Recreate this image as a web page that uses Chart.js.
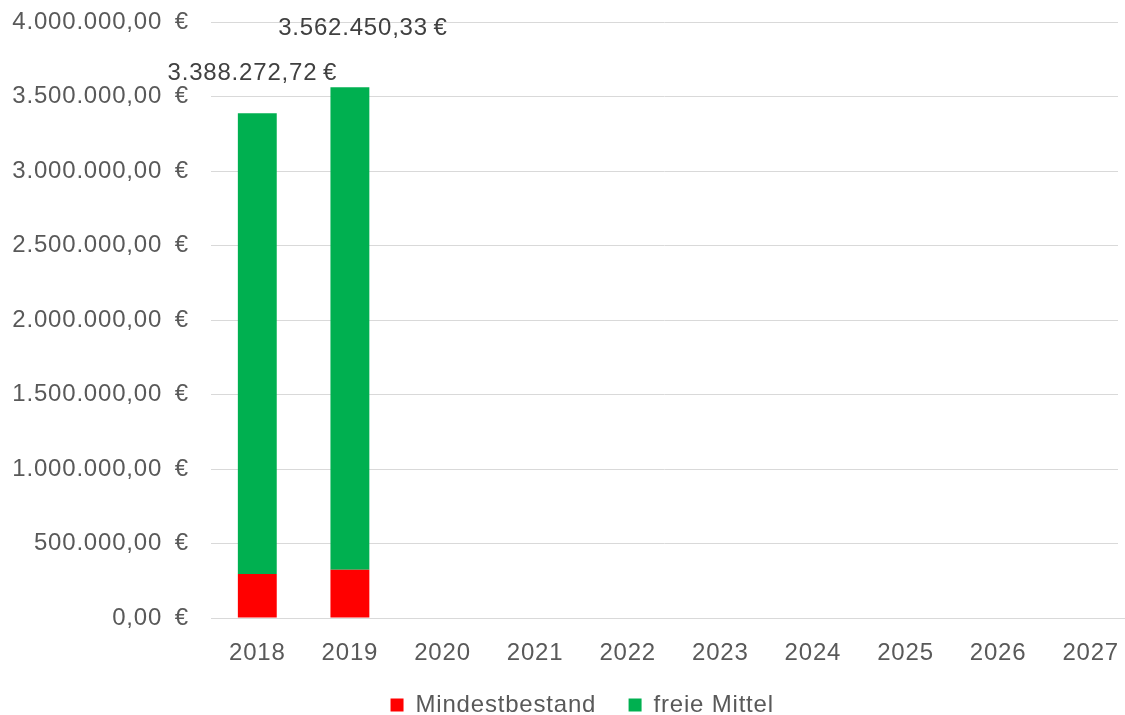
<!DOCTYPE html>
<html lang="de">
<head>
  <meta charset="UTF-8">
  <title>Mindestbestand / freie Mittel</title>
  <script src="https://cdn.jsdelivr.net/npm/chart.js"></script>
  <style>
    body { margin: 0; padding: 0; background: #fff; }
    .chart-container { width: 1125px; height: 715px; }
  </style>
</head>
<body>
  <div class="chart-container">
    <canvas id="liquiChart"></canvas>
  </div>

  <script>
    const years = ['2018', '2019', '2020', '2021', '2022', '2023', '2024', '2025', '2026', '2027'];
    const mindestbestand = [296000, 323000, null, null, null, null, null, null, null, null];
    const totals = [3388272.72, 3562450.33, null, null, null, null, null, null, null, null];
    const freieMittel = totals.map((t, i) => t === null ? null : t - mindestbestand[i]);
    const totalLabels = ['3.388.272,72\u2009€', '3.562.450,33\u2009€'];

    const fontFamily = '"Liberation Sans", Arial, sans-serif';
    const fmt = new Intl.NumberFormat('de-DE', { minimumFractionDigits: 2, maximumFractionDigits: 2 });

    // Summen über den Säulen (Excel hat sie von Hand verschoben)
    const labelShift = [{ dx: -5, dy: -40 }, { dx: 13, dy: -59 }];
    const totalLabelPlugin = {
      id: 'totalLabels',
      beforeDraw(chart) {
        // Excel-Schrift läuft etwas breiter
        chart.ctx.letterSpacing = '0.8px';
      },
      afterLayout(chart) {
        // Legende etwas tiefer/rechts setzen, wie im Original
        chart.legend.top += 12;
        chart.legend.bottom += 12;
        chart.legend.left += 12;
        chart.legend.right += 12;
        // in Excel läuft die Kategorieachse rechts über den Rand hinaus
        const x = chart.scales.x;
        x.right = x.left + 926;
        x.width = x.right - x.left;
        x.configure();
      },
      afterDatasetsDraw(chart) {
        const ctx = chart.ctx;
        const meta = chart.getDatasetMeta(1);
        ctx.save();
        ctx.font = '24px ' + fontFamily;
        ctx.fillStyle = '#404040';
        ctx.textAlign = 'center';
        ctx.textBaseline = 'middle';
        totalLabels.forEach((txt, i) => {
          const bar = meta.data[i];
          if (!bar) return;
          const s = labelShift[i] || { dx: 0, dy: -20 };
          ctx.fillText(txt, bar.x + s.dx, bar.y + s.dy);
        });
        ctx.restore();
      }
    };

    const ctx = document.getElementById('liquiChart').getContext('2d');
    new Chart(ctx, {
      type: 'bar',
      data: {
        labels: years,
        datasets: [
          {
            label: 'Mindestbestand',
            data: mindestbestand,
            backgroundColor: '#FF0000',
            categoryPercentage: 1,
            barPercentage: 0.42
          },
          {
            label: 'freie Mittel',
            data: freieMittel,
            backgroundColor: '#00B050',
            categoryPercentage: 1,
            barPercentage: 0.42
          }
        ]
      },
      options: {
        responsive: true,
        maintainAspectRatio: false,
        animation: false,
        layout: { padding: { top: 22, right: 7, left: 0, bottom: 0 } },
        scales: {
          x: {
            stacked: true,
            afterFit(scale) { scale.height = 61; },
            grid: { display: false, drawTicks: false },
            border: { color: '#d9d9d9', width: 1 },
            ticks: {
              color: '#595959',
              font: { size: 24, family: fontFamily },
              padding: 21
            }
          },
          y: {
            stacked: true,
            min: 0,
            max: 4000000,
            afterFit(scale) {
              scale.width = 211;
              scale.paddingTop = 0;
              scale.paddingBottom = 0;
            },
            grid: { color: '#d9d9d9', lineWidth: 1, drawTicks: false },
            border: { display: false },
            ticks: {
              stepSize: 500000,
              color: '#595959',
              padding: 22,
              font: { size: 24, family: fontFamily },
              callback: v => fmt.format(v) + '\u2002€'
            }
          }
        },
        plugins: {
          legend: {
            position: 'bottom',
            labels: {
              color: '#595959',
              font: { size: 24, family: fontFamily },
              boxWidth: 13,
              boxHeight: 13,
              padding: 2,
              generateLabels(chart) {
                const items = Chart.defaults.plugins.legend.labels.generateLabels(chart);
                items.forEach((it, i) => { if (i < items.length - 1) it.text += '\u2003\u2009'; });
                return items;
              }
            }
          },
          tooltip: { enabled: false }
        }
      },
      plugins: [totalLabelPlugin]
    });
  </script>
</body>
</html>
